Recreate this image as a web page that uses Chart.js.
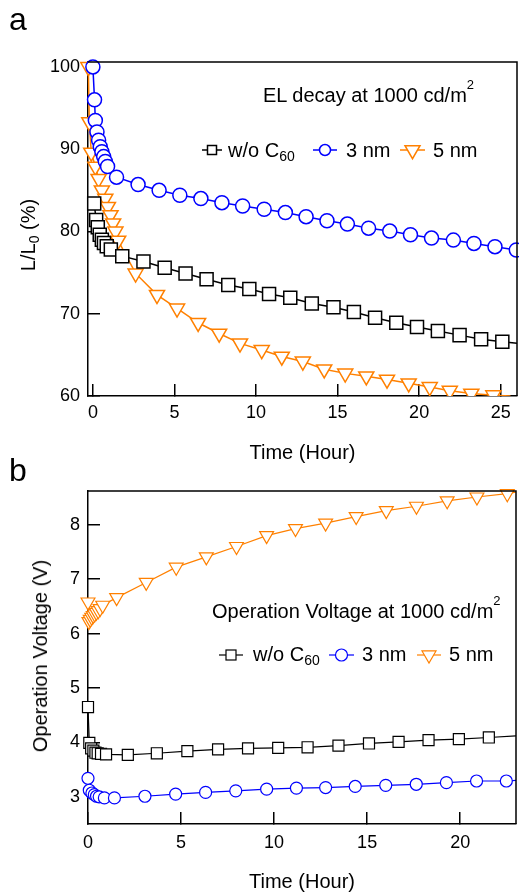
<!DOCTYPE html>
<html><head><meta charset="utf-8">
<script src="https://cdn.jsdelivr.net/npm/chart.js@4.4.1/dist/chart.umd.min.js"></script>
<style>
html,body{margin:0;padding:0;background:#fff;}
body{width:519px;height:894px;position:relative;overflow:hidden;font-family:"Liberation Sans",Arial,sans-serif;color:#000;}
.cw{position:absolute;left:0;width:519px;}
.t{position:absolute;white-space:nowrap;line-height:1;}
.rot{position:absolute;white-space:nowrap;line-height:1;transform:translate(-50%,-50%) rotate(-90deg);}
.sub{line-height:0;}
.sup{line-height:0;}
svg{position:absolute;overflow:visible;}
</style></head><body>
<div class="cw" style="top:0;height:465px"><canvas id="ca" width="519" height="465"></canvas></div>
<div class="cw" style="top:465px;height:429px"><canvas id="cb" width="519" height="429"></canvas></div>
<script>
// ---------- Panel a: EL decay (L/L0 %) vs time (hour) ----------
const timeA_noC60 = [0.08, 0.2, 0.3, 0.42, 0.55, 0.68, 0.85, 1.1, 1.8, 3.1, 4.4, 5.68, 6.97, 8.3, 9.59, 10.8, 12.1, 13.42, 14.75, 16.0, 17.3, 18.6, 19.87, 21.15, 22.48, 23.8, 25.1, 26.0];
const lumA_noC60  = [83.4, 81.4, 80.5, 79.6, 79.0, 78.6, 78.2, 77.8, 77.0, 76.35, 75.6, 74.9, 74.2, 73.5, 73.0, 72.4, 71.95, 71.25, 70.8, 70.2, 69.5, 68.9, 68.4, 67.9, 67.4, 66.9, 66.6, 66.4];

const timeA_3nm = [0, 0.1, 0.15, 0.25, 0.35, 0.45, 0.55, 0.66, 0.76, 0.9, 1.45, 2.77, 4.06, 5.33, 6.62, 7.91, 9.18, 10.5, 11.8, 13.07, 14.35, 15.6, 16.9, 18.2, 19.47, 20.76, 22.1, 23.36, 24.65, 25.96];
const lumA_3nm  = [100, 96.0, 93.5, 92.1, 91.1, 90.3, 89.7, 89.1, 88.5, 87.9, 86.6, 85.7, 85.0, 84.4, 84.0, 83.5, 83.1, 82.7, 82.3, 81.8, 81.3, 80.9, 80.4, 80.05, 79.6, 79.2, 78.95, 78.55, 78.15, 77.75];

const timeA_5nm = [-0.28, -0.22, -0.1, 0.15, 0.35, 0.55, 0.76, 0.92, 1.08, 1.24, 1.38, 1.55, 2.62, 3.93, 5.16, 6.45, 7.74, 9.02, 10.35, 11.58, 12.87, 14.18, 15.47, 16.76, 18.03, 19.36, 20.65, 21.88, 23.2, 24.55, 25.6];
const lumA_5nm  = [100, 93.3, 89.6, 87.9, 86.4, 85.0, 84.0, 83.0, 82.0, 81.0, 80.0, 78.9, 74.9, 72.3, 70.65, 68.9, 67.6, 66.4, 65.6, 64.8, 64.2, 63.25, 62.75, 62.4, 62.0, 61.55, 61.1, 60.65, 60.3, 60.1, 60.0];

const xTicksA = [0, 5, 10, 15, 20, 25];
const yTicksA = [60, 70, 80, 90, 100];

// ---------- Panel b: operation voltage (V) vs time (hour) ----------
const timeB_noC60 = [0, 0.07, 0.17, 0.29, 0.4, 0.52, 0.7, 0.97, 2.14, 3.7, 5.34, 6.99, 8.6, 10.22, 11.8, 13.46, 15.1, 16.69, 18.3, 19.93, 21.54, 23];
const voltB_noC60 = [4.65, 3.99, 3.89, 3.85, 3.81, 3.80, 3.79, 3.78, 3.77, 3.80, 3.84, 3.87, 3.89, 3.90, 3.91, 3.94, 3.98, 4.01, 4.04, 4.06, 4.09, 4.12];

const timeB_3nm = [0, 0.07, 0.21, 0.34, 0.46, 0.6, 0.88, 1.42, 3.06, 4.71, 6.32, 7.94, 9.6, 11.2, 12.77, 14.36, 16.0, 17.64, 19.26, 20.88, 22.48, 23];
const voltB_3nm = [3.34, 3.12, 3.07, 3.04, 3.01, 3.0, 2.98, 2.98, 3.01, 3.05, 3.08, 3.11, 3.14, 3.16, 3.17, 3.19, 3.21, 3.23, 3.26, 3.29, 3.29, 3.3];

const timeB_5nm = [0, 0.05, 0.12, 0.2, 0.28, 0.36, 0.45, 0.55, 0.65, 0.79, 1.54, 3.13, 4.74, 6.36, 7.98, 9.6, 11.15, 12.77, 14.41, 16.03, 17.65, 19.3, 20.9, 22.53, 23];
const voltB_5nm = [6.58, 6.22, 6.26, 6.3, 6.33, 6.36, 6.39, 6.42, 6.46, 6.52, 6.66, 6.94, 7.22, 7.41, 7.6, 7.8, 7.93, 8.03, 8.15, 8.26, 8.34, 8.44, 8.51, 8.57, 8.6];

const xTicksB = [0, 5, 10, 15, 20];
const yTicksB = [3, 4, 5, 6, 7, 8];

const seriesNames = ['w/o C60', '3 nm', '5 nm'];

// ---------- styling ----------
const BLACK = '#000000', BLUE = '#0000ff', ORANGE = '#ff8000';
Chart.defaults.font.family = '"Liberation Sans", Arial, sans-serif';
Chart.defaults.color = '#000';

function makeDataset(label, xs, ys, color, style, radius, lw, tail, order, clip) {
  const rot = style === 'triangle' ? 180 : 0;
  return {
    label,
    data: xs.map((x, i) => ({x, y: ys[i]})),
    showLine: true,
    tension: 0,
    borderColor: color,
    borderWidth: lw,
    backgroundColor: '#fff',
    pointStyle: style,
    pointRotation: rot,
    pointRadius: ctx => (tail && ctx.dataIndex === xs.length - 1) ? 0 : radius,
    pointHoverRadius: ctx => (tail && ctx.dataIndex === xs.length - 1) ? 0 : radius,
    pointBorderColor: color,
    pointBackgroundColor: '#fff',
    pointBorderWidth: lw,
    order,
    clip
  };
}

const framePlugin = {
  id: 'frame',
  afterDatasetsDraw(chart) {
    const {ctx, chartArea: a} = chart;
    ctx.save();
    ctx.strokeStyle = '#000';
    ctx.lineWidth = 1.5;
    ctx.beginPath();
    ctx.moveTo(a.left, a.top);
    ctx.lineTo(a.right, a.top);
    ctx.lineTo(a.right, a.bottom);
    ctx.stroke();
    ctx.restore();
  }
};

function axis(min, max, tickVals, pad, fitSize, horizontal, title) {
  const o = {
    type: 'linear', min, max,
    afterBuildTicks: s => { s.ticks = tickVals.map(v => ({value: v})); },
    ticks: {font: {size: 18}, padding: pad, maxRotation: 0, autoSkip: false, color: '#000'},
    grid: {drawOnChartArea: false, drawTicks: true, tickLength: -12, color: '#000', lineWidth: 1.5},
    border: {display: true, color: '#000', width: 1.5},
    afterFit: s => {
      if (horizontal) s.height = fitSize; else s.width = fitSize;
      s.paddingLeft = 0; s.paddingRight = 0; s.paddingTop = 0; s.paddingBottom = 0;
    }
  };
  if (title) o.title = {display: true, text: title, font: {size: 20}, color: '#000', padding: {top: 0, bottom: 0}};
  return o;
}

function baseOptions(padding, xAxis, yAxis) {
  return {
    responsive: false, animation: false, devicePixelRatio: 1,
    layout: {padding, autoPadding: false},
    plugins: {legend: {display: false}, tooltip: {enabled: false}},
    events: [],
    scales: {x: xAxis, y: yAxis}
  };
}

const clipA = {left: 10, top: 10, right: 10, bottom: 0};
new Chart(document.getElementById('ca'), {
  type: 'scatter',
  data: {datasets: [
    makeDataset(seriesNames[0], timeA_noC60, lumA_noC60, BLACK, 'rect', 9.2, 1.5, true, 0, clipA),
    makeDataset(seriesNames[1], timeA_3nm, lumA_3nm, BLUE, 'circle', 7, 1.5, false, 1, clipA),
    makeDataset(seriesNames[2], timeA_5nm, lumA_5nm, ORANGE, 'triangle', 8.7, 1.5, true, 2, clipA)
  ]},
  options: baseOptions({top: 62, right: 2, left: 0, bottom: 0},
    axis(-0.3, 26, xTicksA, 18.2, 69, true, 'Time (Hour)'),
    axis(60, 100.6, yTicksA, 20, 88, false, null)),
  plugins: [framePlugin]
});

new Chart(document.getElementById('cb'), {
  type: 'scatter',
  data: {datasets: [
    makeDataset(seriesNames[0], timeB_noC60, voltB_noC60, BLACK, 'rect', 7.8, 1.2, true, 0, false),
    makeDataset(seriesNames[1], timeB_3nm, voltB_3nm, BLUE, 'circle', 6, 1.2, true, 1, false),
    makeDataset(seriesNames[2], timeB_5nm, voltB_5nm, ORANGE, 'triangle', 8, 1.2, true, 2, false)
  ]},
  options: baseOptions({top: 26, right: 3, left: 0, bottom: 0},
    axis(0, 23, xTicksB, 20.2, 70, true, 'Time (Hour)'),
    axis(2.5, 8.62, yTicksB, 20, 88, false, null)),
  plugins: [framePlugin]
});

// ---------- HTML text overlays ----------
function addText(html, left, baseline, fs) {
  const d = document.createElement('div');
  d.className = 't';
  d.style.left = left + 'px';
  d.style.top = (baseline - 0.8465 * fs) + 'px';
  d.style.fontSize = fs + 'px';
  d.innerHTML = html;
  document.body.appendChild(d);
  return d;
}
function addRot(html, baselineX, cy, fs) {
  const d = document.createElement('div');
  d.className = 'rot';
  d.style.left = (baselineX - 0.3465 * fs) + 'px';
  d.style.top = cy + 'px';
  d.style.fontSize = fs + 'px';
  d.innerHTML = html;
  document.body.appendChild(d);
}
const SUB = s => '<span class="sub" style="font-size:14px;vertical-align:-4px">' + s + '</span>';
const SUP = s => '<span class="sup" style="font-size:13px;vertical-align:13px">' + s + '</span>';

addText('a', 9, 30.5, 32);
addText('b', 9, 481.5, 32);
addText('EL decay at 1000 cd/m' + SUP('2'), 263, 101.7, 20);
addText('Operation Voltage at 1000 cd/m' + SUP('2'), 212, 618, 20);
addRot('L/L' + SUB('0') + ' (%)', 35, 235, 20);
addRot('Operation Voltage (V)', 46.7, 656, 20);

// legend symbols
const NS = 'http://www.w3.org/2000/svg';
function legendSym(kind, color, cx, cy, half, size, lw) {
  const s = document.createElementNS(NS, 'svg');
  s.setAttribute('width', 2 * half); s.setAttribute('height', 20);
  s.style.left = (cx - half) + 'px'; s.style.top = (cy - 10) + 'px';
  const ln = document.createElementNS(NS, 'line');
  ln.setAttribute('x1', 0); ln.setAttribute('x2', 2 * half); ln.setAttribute('y1', 10); ln.setAttribute('y2', 10);
  ln.setAttribute('stroke', color); ln.setAttribute('stroke-width', lw);
  s.appendChild(ln);
  let m;
  if (kind === 'rect') {
    m = document.createElementNS(NS, 'rect');
    m.setAttribute('x', half - size / 2); m.setAttribute('y', 10 - size / 2);
    m.setAttribute('width', size); m.setAttribute('height', size);
  } else if (kind === 'circle') {
    m = document.createElementNS(NS, 'circle');
    m.setAttribute('cx', half); m.setAttribute('cy', 10); m.setAttribute('r', size / 2);
  } else {
    const h = size * 0.866;
    m = document.createElementNS(NS, 'polygon');
    m.setAttribute('points', (half - size / 2) + ',' + (10 - h / 3) + ' ' + (half + size / 2) + ',' + (10 - h / 3) + ' ' + half + ',' + (10 + 2 * h / 3));
  }
  m.setAttribute('fill', '#fff'); m.setAttribute('stroke', color); m.setAttribute('stroke-width', lw);
  s.appendChild(m);
  document.body.appendChild(s);
}

// legend panel a
legendSym('rect', BLACK, 212, 150, 10, 9, 1.5);
addText('w/o C' + SUB('60'), 228, 156.5, 20);
legendSym('circle', BLUE, 325, 150, 12, 11, 1.5);
addText('3 nm', 346, 156.5, 20);
legendSym('tri', ORANGE, 412.5, 150, 12.5, 15, 1.5);
addText('5 nm', 433, 156.5, 20);

// legend panel b
legendSym('rect', BLACK, 231, 655, 12, 10, 1.2);
addText('w/o C' + SUB('60'), 253, 661, 20);
legendSym('circle', BLUE, 341, 655, 12.5, 12, 1.2);
addText('3 nm', 362, 661, 20);
legendSym('tri', ORANGE, 428.5, 655, 12, 14, 1.2);
addText('5 nm', 449, 661, 20);
</script>
</body></html>
